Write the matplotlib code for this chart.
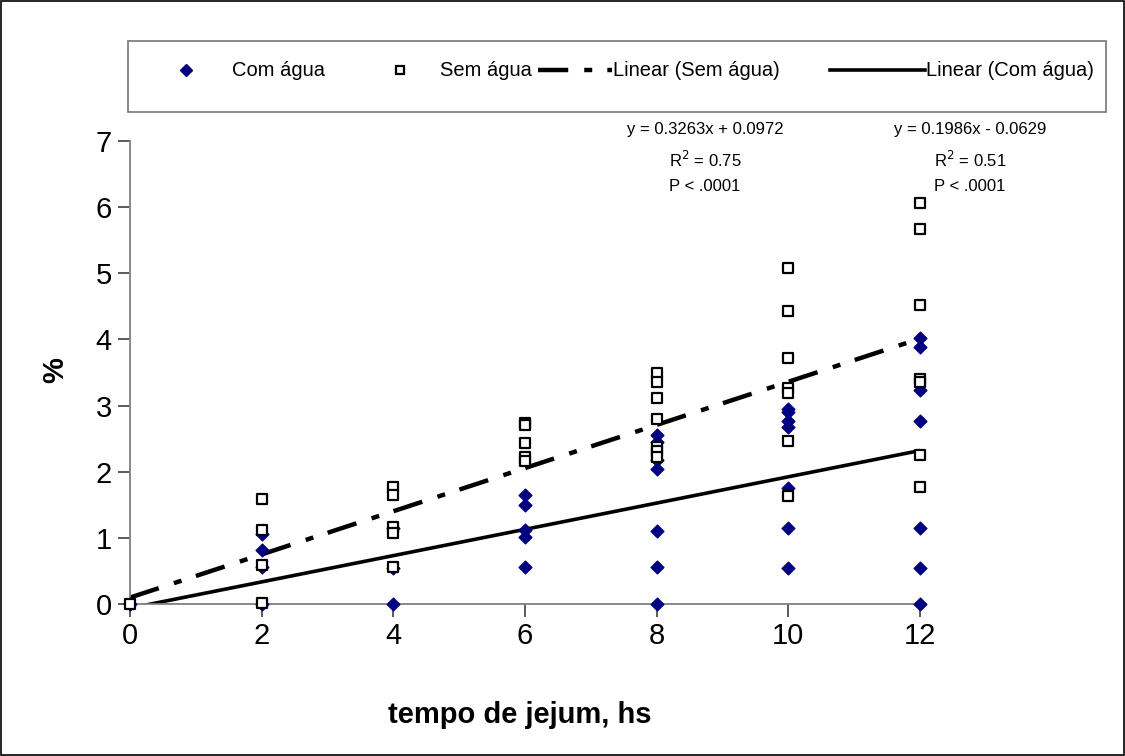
import numpy as np
import matplotlib
matplotlib.use("Agg")
import matplotlib.pyplot as plt
from matplotlib.lines import Line2D
from matplotlib.patches import Rectangle

plt.rcParams['font.family'] = ['Liberation Sans', 'DejaVu Sans']

# hours of fasting and % values
com_x = [0, 2, 2, 2, 2, 4, 4, 4, 6, 6, 6, 6, 6, 8, 8, 8, 8, 8, 8, 8,
         10, 10, 10, 10, 10, 10, 10, 12, 12, 12, 12, 12, 12, 12]
com_y = [0, 1.06, 0.82, 0.56, 0, 1.15, 0.55, 0, 1.65, 1.50, 1.12, 1.02, 0.56,
         2.56, 2.45, 2.18, 2.04, 1.10, 0.56, 0,
         2.95, 2.90, 2.76, 2.68, 1.75, 1.15, 0.54,
         4.02, 3.89, 3.24, 2.77, 1.15, 0.54, 0]
sem_x = [0, 2, 2, 2, 2, 4, 4, 4, 4, 4, 6, 6, 6, 6, 6, 8, 8, 8, 8, 8, 8, 8,
         10, 10, 10, 10, 10, 10, 10, 12, 12, 12, 12, 12, 12, 12]
sem_y = [0, 1.59, 1.12, 0.59, 0.01, 1.77, 1.65, 1.16, 1.07, 0.56,
         2.74, 2.70, 2.43, 2.22, 2.16,
         3.49, 3.36, 3.11, 2.80, 2.38, 2.31, 2.22,
         5.08, 4.43, 3.72, 3.26, 3.19, 2.47, 1.63,
         6.07, 5.67, 4.52, 3.40, 3.36, 2.25, 1.77]

# fitted lines as printed on the chart
sem_fit = (0.3263, 0.0972)
com_fit = (0.1986, -0.0629)
sem_text = "y = 0.3263x + 0.0972\nR$^2$ = 0.75\nP < .0001"
com_text = "y = 0.1986x - 0.0629\nR$^2$ = 0.51\nP < .0001"
labels = ['Com água', 'Sem água', 'Linear (Sem água)', 'Linear (Com água)']

W, H = 1125, 756
fig = plt.figure(figsize=(W/100, H/100), dpi=100)
ax = fig.add_axes([130/W, 1-604/H, 790/W, 463/H])

sem_dash = (6.8, 3.6, 1.8, 3.4)
xx = np.array([0, 12])
ax.plot(xx, sem_fit[0]*xx + sem_fit[1], color='black', lw=3.2,
        dashes=sem_dash, zorder=2, solid_capstyle='butt')
ax.plot(xx, com_fit[0]*xx + com_fit[1], color='black', lw=2.6, zorder=2)
ax.scatter(com_x, com_y, marker='D', s=42, color='#000080', zorder=3, clip_on=False)
ax.scatter(sem_x, sem_y, marker='s', s=42, facecolor='white', edgecolor='black',
           linewidths=1.6, zorder=4, clip_on=False)

ax.set_xlim(0, 12)
ax.set_ylim(0, 7)
ax.set_xticks(range(0, 13, 2))
ax.set_yticks(range(0, 8))
for s in ['top', 'right']:
    ax.spines[s].set_visible(False)
for s in ['left', 'bottom']:
    ax.spines[s].set_color('#808080')
    ax.spines[s].set_linewidth(1.3)
ax.tick_params(axis='both', direction='out', length=9, width=1.2, color='#404040',
               labelsize=21, pad=4)

fig.text(520/W, 1-715/H, 'tempo de jejum, hs', ha='center', va='center',
         fontsize=21, fontweight='bold')
fig.text(55/W, 1-370/H, '%', ha='center', va='center', rotation=90,
         fontsize=21, fontweight='bold')

fig.text(705/W, 1-122/H, sem_text, ha='center', va='top', fontsize=12,
         linespacing=1.75)
fig.text(970/W, 1-122/H, com_text, ha='center', va='top', fontsize=12,
         linespacing=1.75)

# legend box, entries placed by hand
fig.patches.append(Rectangle((128/W, 1-112/H), 978/W, 71/H,
                             transform=fig.transFigure, fill=False,
                             edgecolor='#808080', lw=1.3))
ly = 1-70/H
fig.lines.append(Line2D([186/W], [ly], marker='D', color='#000080', ls='none',
                        markersize=6, transform=fig.transFigure))
fig.lines.append(Line2D([400/W], [ly], marker='s', markerfacecolor='white',
                        markeredgecolor='black', markeredgewidth=1.6, ls='none',
                        markersize=6, transform=fig.transFigure))
fig.lines.append(Line2D([538/W, 612/W], [ly, ly], color='black', lw=3.2,
                        dashes=sem_dash, transform=fig.transFigure))
fig.lines.append(Line2D([830/W, 925/W], [ly, ly], color='black', lw=2.6,
                        transform=fig.transFigure))
for xpos, lab in zip([232, 440, 613, 926], labels):
    fig.text(xpos/W, ly, lab, ha='left', va='center', fontsize=14.5)

# outer border
fig.patches.append(Rectangle((0.001, 0.001), 0.998, 0.998, transform=fig.transFigure,
                             fill=False, edgecolor='black', lw=1.2))

fig.savefig('out.png', dpi=100)
